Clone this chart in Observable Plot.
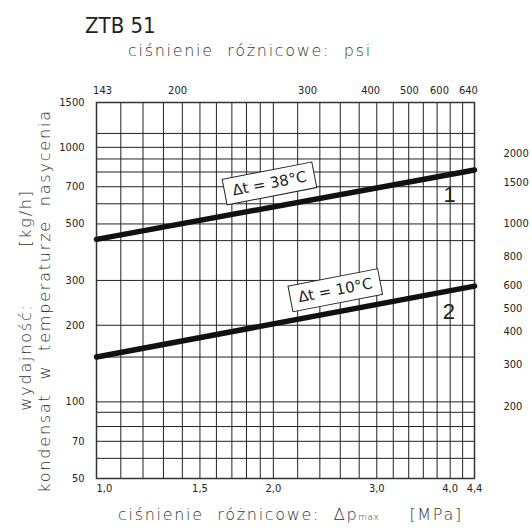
<!DOCTYPE html>
<html><head><meta charset="utf-8">
<script src="https://cdn.jsdelivr.net/npm/d3@7"></script>
<script src="https://cdn.jsdelivr.net/npm/@observablehq/plot@0.6"></script>
<style>
html,body{margin:0;padding:0;background:#fff;}
#chart svg{display:block;}
</style></head><body><div id="chart"></div>
<script>
// ---- data ----
const pressureTicks = [1.0, 1.5, 2.0, 3.0, 4.0, 4.4];          // MPa
const flowTicks = [50, 70, 100, 200, 300, 500, 700, 1000, 1500]; // kg/h
const xGrid = [1.1,1.2,1.3,1.4,1.5,1.6,1.7,1.8,1.9,2.0,2.2,2.4,2.6,2.8,3.0,3.2,3.4,3.6,3.8,4.0,4.2];
const yGrid = [60,70,80,91,100,150,200,300,430,500,600,700,800,900,1000,1134];
const psiLabels = [143, 200, 300, 400, 500, 600, 640];
const psiAt = [1.024, 1.374, 2.287, 2.928, 3.41, 3.836, 4.297];   // MPa position of psi labels
const lbLabels = [2000, 1500, 1000, 800, 600, 500, 400, 300, 200];
const lbAt = [945, 727, 502, 372, 286, 233, 189, 140, 96];        // kg/h position of lb/h labels
const curvePressure = [1.0, 4.4];
const curve1 = [435, 815];
const curve2 = [150, 285];
const curveNames = ["1", "2"];
const curveDeltaT = ["Δt = 38°C", "Δt = 10°C"];
const tagAtPressure = [1.97, 2.55];
const tagAtFlow = [720, 274];
const numAtPressure = [3.99, 3.98];
const numAtFlow = [652, 226];

// ---- tables ----
const lines = [];
[curve1, curve2].forEach((c, k) => c.forEach((q, i) => lines.push({s: curveNames[k], p: curvePressure[i], q})));
const tags = curveDeltaT.map((t, i) => ({t, p: tagAtPressure[i], q: tagAtFlow[i]}));
const nums = curveNames.map((t, i) => ({t, p: numAtPressure[i], q: numAtFlow[i]}));

const narrow = "'Liberation Sans Narrow','DejaVu Sans Condensed',sans-serif";
const fmt = d => d.toFixed(1).replace(".", ",");

const chart = Plot.plot({
  width: 532, height: 529,
  marginLeft: 96, marginRight: 58, marginTop: 102, marginBottom: 51,
  style: {background: "#fff", fontFamily: narrow, fontSize: "11px", color: "#222"},
  x: {type: "log", domain: [1, 4.4]},
  y: {type: "log", domain: [50, 1500]},
  marks: [
    Plot.ruleX(xGrid, {stroke: "#222", strokeWidth: 1}),
    Plot.ruleY(yGrid, {stroke: "#222", strokeWidth: 1}),
    Plot.frame({stroke: "#333", strokeWidth: 1.5}),
    Plot.line(lines, {x: "p", y: "q", z: "s", stroke: "#111", strokeWidth: 5.5}),
    Plot.axisY(flowTicks, {tickSize: 0, tickPadding: 12, tickFormat: d => String(d), label: null}),
    Plot.axisX([1.0], {tickSize: 0, tickPadding: 6, textAnchor: "start", tickFormat: fmt, label: null}),
    Plot.axisX(pressureTicks.slice(1), {tickSize: 0, tickPadding: 6, tickFormat: fmt, label: null}),
    Plot.text(psiLabels, {x: (d, i) => psiAt[i], frameAnchor: "top", dy: -16, text: d => String(d)}),
    Plot.text(lbLabels, {y: (d, i) => lbAt[i], frameAnchor: "right", dx: 29, textAnchor: "start", text: d => String(d)}),
    Plot.text(tags, {x: "p", y: "q", text: "t", rotate: -11, fontSize: 15, fontFamily: "'DejaVu Sans',sans-serif", fill: "#222", className: "tag"}),
    Plot.text(nums, {x: "p", y: "q", text: "t", fontSize: 22, fontFamily: "'Liberation Sans','Arimo',sans-serif", fill: "#222"})
  ]
});
document.getElementById("chart").appendChild(chart);

// boxes behind the Δt tags
d3.select(chart).selectAll("g.tag text").each(function() {
  const b = this.getBBox();
  const pad = 8;
  d3.select(this.parentNode).insert("rect", () => this)
    .attr("x", b.x - pad).attr("y", b.y - 4).attr("width", b.width + 2 * pad).attr("height", b.height + 8)
    .attr("transform", this.getAttribute("transform"))
    .attr("fill", "#fff").attr("stroke", "#222").attr("stroke-width", 1);
});

// titles
const svg = d3.select(chart);
const light = "'DejaVu Sans',sans-serif";
const t = (x, y) => svg.append("text").attr("x", x).attr("y", y).attr("text-anchor", "start");
t(85, 33).attr("font-family", narrow).attr("font-size", 22).attr("fill", "#222").text("ZTB 51");
t(128, 56).attr("font-family", light).attr("font-weight", 200)
  .attr("font-size", 16).attr("letter-spacing", 1.7).attr("fill", "#333").text("ciśnienie  różnicowe:  psi");
const bt = t(118, 520).attr("font-family", light).attr("font-weight", 200)
  .attr("font-size", 16).attr("letter-spacing", 1.7).attr("fill", "#333");
bt.append("tspan").text("ciśnienie  różnicowe:  Δp");
bt.append("tspan").attr("font-size", 9).attr("letter-spacing", 0.5).text("max");
bt.append("tspan").attr("dx", 30).text("[MPa]");
const vt = (x, y, s) => svg.append("text").attr("transform", `translate(${x},${y}) rotate(-90)`).attr("text-anchor", "middle")
  .attr("font-family", light).attr("font-weight", 200).attr("font-size", 16).attr("letter-spacing", 1.8).attr("fill", "#333").text(s);
vt(31, 357, "wydajność:");
vt(31, 218, "[kg/h]");
vt(50, 301, "kondensat  w  temperaturze  nasycenia");
</script></body></html>
